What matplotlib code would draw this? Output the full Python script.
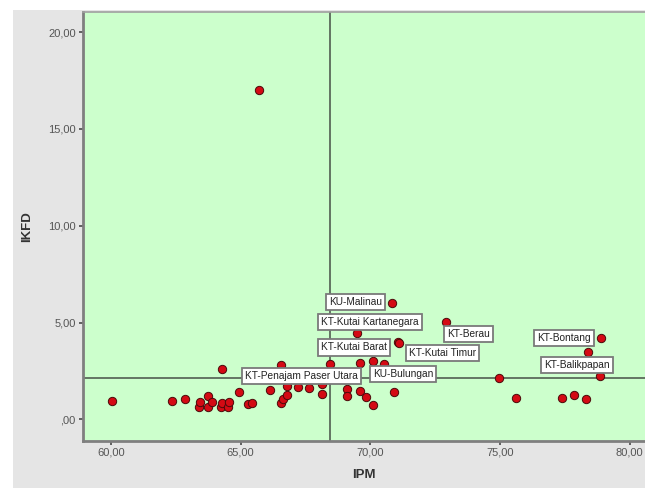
import matplotlib
matplotlib.use("Agg")
import matplotlib.pyplot as plt
from matplotlib.patches import Rectangle

# IPM (x) vs IKFD (y) per kabupaten/kota
ipm = [60.04, 62.37, 62.85, 63.40, 63.43, 63.73, 63.75, 63.90, 64.24, 64.28,
       64.53, 64.57, 64.28, 64.95, 65.28, 65.45, 65.73, 66.12, 66.57, 66.57,
       66.64, 66.80, 66.80, 67.22, 67.64, 68.13, 68.13, 68.45, 69.12, 69.12,
       69.48, 69.59, 69.61, 69.85, 70.10, 70.10, 70.52, 70.82, 70.91, 71.05,
       71.10, 72.91, 74.98, 75.61, 77.40, 77.87, 78.32, 78.39, 78.84, 78.91]
ikfd = [0.96, 0.96, 1.03, 0.62, 0.91, 1.22, 0.65, 0.91, 0.65, 0.86,
        0.62, 0.91, 2.60, 1.43, 0.77, 0.83, 17.02, 1.51, 2.81, 0.86,
        1.03, 1.26, 1.70, 1.67, 1.60, 1.82, 1.29, 2.84, 1.57, 1.20,
        4.44, 2.89, 1.48, 1.14, 3.01, 0.74, 2.84, 6.03, 1.40, 4.00,
        3.95, 5.04, 2.15, 1.12, 1.09, 1.26, 1.05, 3.46, 2.25, 4.19]

# labelled points: name, point x, point y
label_names = ["KU-Malinau", "KT-Kutai Kartanegara", "KT-Kutai Barat", "KT-Kutai Timur",
               "KU-Bulungan", "KT-Penajam Paser Utara", "KT-Berau", "KT-Bontang",
               "KT-Balikpapan"]
label_x = [70.82, 69.48, 71.05, 71.10, 70.52, 68.13, 72.91, 78.91, 78.84]
label_y = [6.03, 4.44, 4.00, 3.95, 2.84, 1.82, 5.04, 4.19, 2.25]
# where the label boxes sit (data coords)
label_pos = [(69.44, 6.04), (69.98, 5.04), (69.38, 3.71), (72.78, 3.41),
             (71.26, 2.33), (67.34, 2.24), (73.79, 4.40), (77.47, 4.19),
             (77.98, 2.81)]

mean_ipm = 68.45
mean_ikfd = 2.13

xticks = [60, 65, 70, 75, 80]
xtick_labels = ["60,00", "65,00", "70,00", "75,00", "80,00"]
yticks = [0, 5, 10, 15, 20]
ytick_labels = [",00", "5,00", "10,00", "15,00", "20,00"]

plt.rcParams['font.family'] = ['Liberation Sans', 'DejaVu Sans']

fig = plt.figure(figsize=(6.45, 4.88), dpi=100, facecolor="white")
# gray chart frame like SPSS
fig.patches.append(Rectangle((0.0197, 0), 1 - 0.0197, 0.979, transform=fig.transFigure,
                             facecolor="#e5e5e5", edgecolor="none", zorder=-10))

ax = fig.add_axes([0.128, 0.097, 0.872, 0.879])
ax.set_facecolor("#ccffcc")

ax.axvline(mean_ipm, color="#5a6a5a", lw=1.3, zorder=1)
ax.axhline(mean_ikfd, color="#5a6a5a", lw=1.3, zorder=1)

ax.scatter(ipm, ikfd, s=36, c="#d40a14", edgecolors="#4a0a0a", linewidths=0.7, zorder=3)

for name, px, py, pos in zip(label_names, label_x, label_y, label_pos):
    ax.annotate(name, xy=(px, py), xytext=pos, ha="center", va="center",
                fontsize=7.3, color="#222222", zorder=4,
                bbox=dict(boxstyle="square,pad=0.3", fc="white", ec="#7a7a7a", lw=1.3))

ax.set_xlim(58.91, 80.59)
ax.set_ylim(-1.106, 21.06)
ax.set_xticks(xticks)
ax.set_xticklabels(xtick_labels)
ax.set_yticks(yticks)
ax.set_yticklabels(ytick_labels)
ax.tick_params(direction="out", length=3, width=1.3, color="#555555",
               labelsize=8, labelcolor="#555555", pad=2)

for side in ["left", "bottom"]:
    ax.spines[side].set_color("#7f7f7f")
    ax.spines[side].set_linewidth(2.0)
ax.spines["top"].set_color("#a0a0a0")
ax.spines["top"].set_linewidth(1.2)
ax.spines["right"].set_visible(False)

ax.set_xlabel("IPM", fontsize=9.5, fontweight="bold", color="#333333")
ax.set_ylabel("IKFD", fontsize=9.5, fontweight="bold", color="#333333")
ax.xaxis.set_label_coords(0.5, -0.065)
ax.yaxis.set_label_coords(-0.088, 0.5)

fig.savefig("out.png", dpi=100, facecolor=fig.get_facecolor())
